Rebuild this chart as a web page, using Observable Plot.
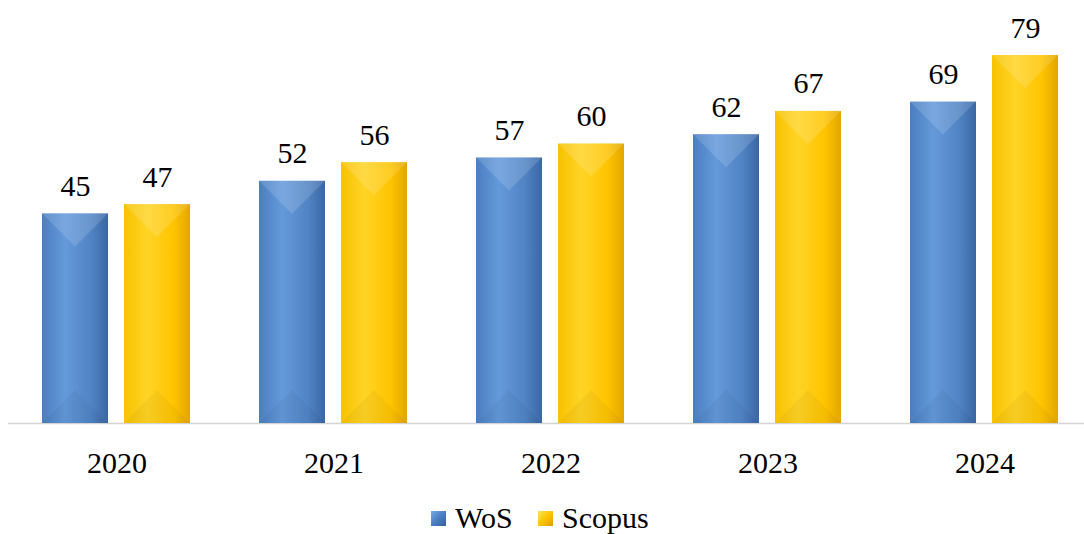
<!DOCTYPE html>
<html>
<head>
<meta charset="utf-8">
<script src="https://cdn.jsdelivr.net/npm/d3@7"></script>
<script src="https://cdn.jsdelivr.net/npm/@observablehq/plot@0.6"></script>
<style>body{margin:0;background:#fff;font-size:26px}</style>
</head>
<body>
<div id="chart"></div>
<div id="legend" style="display:flex;justify-content:center;align-items:flex-start;height:44px;box-sizing:border-box;padding-top:15px;margin-left:-4px">
  <div style="display:flex;align-items:flex-start"><span id="swWoS" style="display:inline-block;width:15px;height:15px;margin-top:6px;margin-right:9px"></span><span style="display:inline-block;font-family:'Liberation Serif';font-size:26px;line-height:30px;color:#000;transform-origin:0 24px;transform:scale(1.1538);margin-right:8px">WoS</span></div>
  <div style="display:flex;align-items:flex-start;margin-left:25px"><span id="swScopus" style="display:inline-block;width:15px;height:15px;margin-top:6px;margin-right:9px"></span><span style="display:inline-block;font-family:'Liberation Serif';font-size:26px;line-height:30px;color:#000;transform-origin:0 24px;transform:scale(1.1538);margin-right:12px">Scopus</span></div>
</div>
<script>
const years = ["2020", "2021", "2022", "2023", "2024"];
const seriesNames = ["WoS", "Scopus"];
const wosValues = [45, 52, 57, 62, 69];
const scopusValues = [47, 56, 60, 67, 79];

const data = [];
years.forEach((y, i) => {
  data.push({year: y, series: "WoS", value: wosValues[i]});
  data.push({year: y, series: "Scopus", value: scopusValues[i]});
});

function bevel(index, scales, values, dims, context, next) {
  const g = next(index, scales, values, dims, context);
  const ns = "http://www.w3.org/2000/svg";
  g.querySelectorAll("rect").forEach(r => {
    const x = +r.getAttribute("x"), y = +r.getAttribute("y");
    const w = +r.getAttribute("width"), h = +r.getAttribute("height");
    const d = Math.min(w / 2, h / 2);
    const parent = r.parentNode;
    const top = document.createElementNS(ns, "polygon");
    top.setAttribute("points", `${x},${y} ${x + w},${y} ${x + w / 2},${y + d}`);
    top.setAttribute("fill", "#fff");
    top.setAttribute("fill-opacity", "0.14");
    const bot = document.createElementNS(ns, "polygon");
    bot.setAttribute("points", `${x},${y + h} ${x + w},${y + h} ${x + w / 2},${y + h - d}`);
    bot.setAttribute("fill", "#000");
    bot.setAttribute("fill-opacity", "0.035");
    const tf = r.getAttribute("transform");
    if (tf) { top.setAttribute("transform", tf); bot.setAttribute("transform", tf); }
    parent.insertBefore(top, r.nextSibling);
    parent.insertBefore(bot, top.nextSibling);
  });
  return g;
}

const font = "Liberation Serif";
const baseSize = 26;
const k = 30 / 26;

const plot = Plot.plot({
  width: 1084,
  height: 490,
  marginTop: 55,
  marginBottom: 67,
  marginLeft: 6,
  marginRight: 0,
  fx: {domain: years, range: [6, 1094], padding: 0},
  x: {domain: seriesNames, paddingInner: 0.193, paddingOuter: 0.4066, axis: null},
  y: {domain: [0, 79], axis: null},
  marks: [
    Plot.ruleY([0], {stroke: "#d4d4d4", strokeWidth: 1.5}),
    Plot.barY(data.filter(d => d.series === "WoS"), {fx: "year", x: "series", y: "value", fill: "url(#gWoS)", render: bevel}),
    Plot.barY(data.filter(d => d.series === "Scopus"), {fx: "year", x: "series", y: "value", fill: "url(#gScopus)", render: bevel}),
    Plot.text(data, {fx: "year", x: "series", y: "value", text: d => String(d.value), lineAnchor: "bottom", dy: -18, fontSize: baseSize, fontFamily: font, fill: "#000"}),
    Plot.axisFx({anchor: "bottom", label: null, tickSize: 0, tickPadding: 28, fontSize: baseSize, fontFamily: font, fill: "#000"})
  ]
});

const defs = `<defs>
<linearGradient id="gWoS" x1="0" x2="1" y1="0" y2="0">
  <stop offset="0" stop-color="#4a7ec0"/>
  <stop offset="0.35" stop-color="#6499da"/>
  <stop offset="0.75" stop-color="#5083c4"/>
  <stop offset="1" stop-color="#3a67a2"/>
</linearGradient>
<linearGradient id="gScopus" x1="0" x2="1" y1="0" y2="0">
  <stop offset="0" stop-color="#f7c200"/>
  <stop offset="0.35" stop-color="#ffd426"/>
  <stop offset="0.75" stop-color="#ffc400"/>
  <stop offset="1" stop-color="#e2a600"/>
</linearGradient>
</defs>`;
plot.insertAdjacentHTML("afterbegin", defs);
const isNum = v => v != null && v !== "" && /^-?[\d.]+$/.test(v.trim());
plot.querySelectorAll("text").forEach(t => {
  t.style.fontFamily = "'Liberation Serif'";
  t.style.fontSize = baseSize + "px";
  t.setAttribute("fill", "#000");
  let tf = t.getAttribute("transform") || "";
  const xa = t.getAttribute("x"), ya = t.getAttribute("y");
  let tx = 0, ty = 0;
  if (isNum(xa)) { tx = +xa; t.removeAttribute("x"); }
  if (isNum(ya)) { ty = +ya; t.removeAttribute("y"); }
  if (tx || ty) tf += ` translate(${tx},${ty})`;
  t.setAttribute("transform", (tf + ` scale(${k})`).trim());
});
document.getElementById("chart").appendChild(plot);

document.getElementById("swWoS").style.background = "linear-gradient(135deg, #7aaae6, #4a7ec0 50%, #35609a)";
document.getElementById("swScopus").style.background = "linear-gradient(135deg, #ffe060, #ffc400 50%, #d99e00)";
</script>
</body>
</html>
